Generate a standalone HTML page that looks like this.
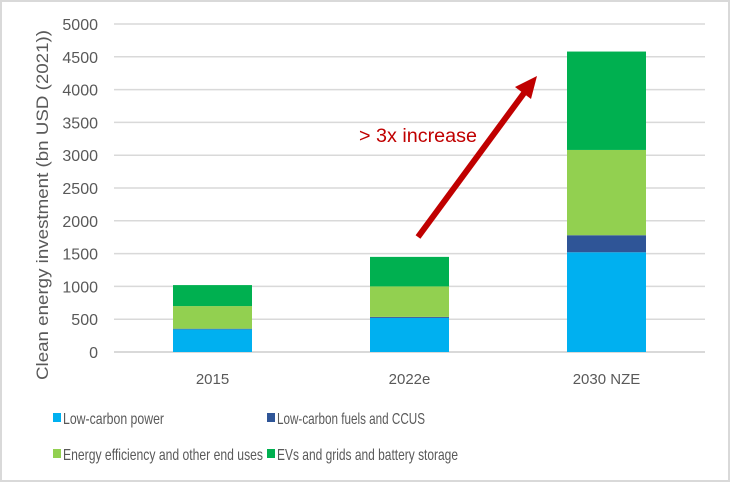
<!DOCTYPE html>
<html><head><meta charset="utf-8"><style>
html,body{margin:0;padding:0;background:#fff}
svg{display:block;font-family:"Liberation Sans",sans-serif}
</style></head><body>
<svg id="chart" width="730" height="482">
<rect x="1" y="1" width="728" height="480" fill="#fff" stroke="#D9D9D9" stroke-width="2"/>
<g id="grid"></g><g id="bars"></g><g id="labels"></g>
<text transform="translate(48,205) rotate(-90)" text-anchor="middle" font-size="17" fill="#595959" textLength="350" lengthAdjust="spacingAndGlyphs">Clean energy investment (bn USD (2021))</text>
<line x1="418" y1="237" x2="527" y2="89" stroke="#C00000" stroke-width="6"/>
<polygon points="537,76 515,87 531,99" fill="#C00000"/>
<text x="359" y="142" font-size="19" fill="#C00000" textLength="118" lengthAdjust="spacingAndGlyphs">&gt; 3x increase</text>
<g id="legend"></g>
</svg>
<script>
const categories = ["2015","2022e","2030 NZE"];
const seriesNames = ["Low-carbon power","Low-carbon fuels and CCUS","Energy efficiency and other end uses","EVs and grids and battery storage"];
const power = [345, 520, 1520];
const fuels = [10, 15, 260];
const efficiency = [345, 465, 1300];
const evs = [320, 450, 1500];
const yTicks = [0,500,1000,1500,2000,2500,3000,3500,4000,4500,5000];
const colors = ["#00B0F0","#2F5597","#92D050","#00B050"];
const NS="http://www.w3.org/2000/svg";
const y0=352, y1=24, yMax=5000, xL=114, xR=705;
const y = v => y0 - v/yMax*(y0-y1);
const xc = i => xL + (i+0.5)*(xR-xL)/categories.length;
const bw = 79;
function mk(t,a,p){const e=document.createElementNS(NS,t);for(const k in a)e.setAttribute(k,a[k]);p.appendChild(e);return e;}
const grid=document.getElementById('grid'), bars=document.getElementById('bars'), labels=document.getElementById('labels'), legend=document.getElementById('legend');
yTicks.forEach(t=>{
  const l=mk('line',{x1:xL,x2:xR,y1:y(t),y2:y(t),stroke:'#D9D9D9','stroke-width':t===0?2:1.5},grid);
  
  
  const tx=mk('text',{x:98,y:y(t)+6,'text-anchor':'end','font-size':16,fill:'#595959'},labels);
  tx.textContent=t;
  
  
});
const series=[power,fuels,efficiency,evs];
categories.forEach((c,i)=>{
  let base=0;
  series.forEach((s,k)=>{
    const v=s[i];
    const r=mk('rect',{x:xc(i)-bw/2,y:y(base+v),width:bw,height:y(base)-y(base+v),fill:colors[k]},bars);
    
    
    base+=v;
  });
  const t=mk('text',{x:xc(i),y:384,'text-anchor':'middle','font-size':15,fill:'#595959'},labels);
  t.textContent=c;
  
  
});
const legPos=[[53,418,101],[267,418,148],[53,454,200],[267,454,181]];
seriesNames.forEach((n,k)=>{
  const p=legPos[k];
  const r=mk('rect',{x:p[0],y:p[1]-5,width:8,height:9,fill:colors[k]},legend);
  
  
  const t=mk('text',{x:p[0]+10,y:p[1]+6,'font-size':16,fill:'#595959',textLength:p[2],lengthAdjust:'spacingAndGlyphs'},legend);
  t.textContent=n;
  
  
});
</script>
</body></html>
